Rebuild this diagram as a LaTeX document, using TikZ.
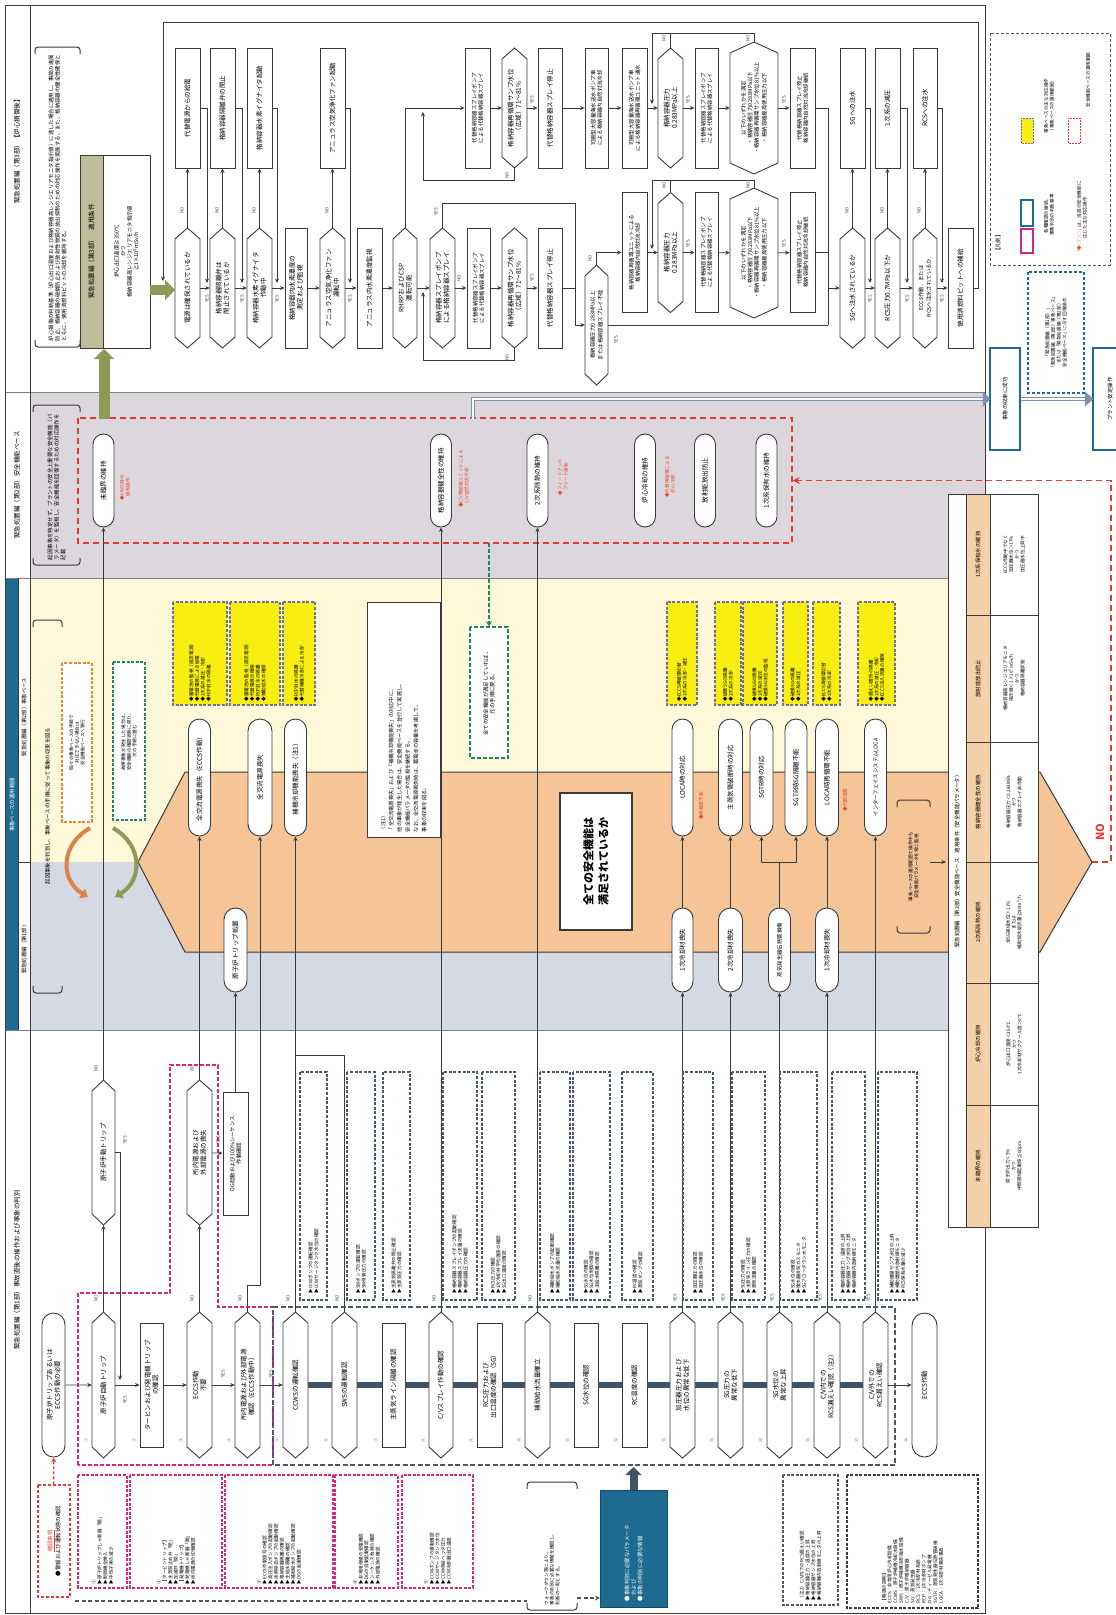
\documentclass[tikz,border=0pt]{standalone}
\usepackage{fontspec}
\setmainfont{Noto Sans CJK JP}
\XeTeXlinebreaklocale "ja"
\XeTeXlinebreakskip=0pt
\usetikzlibrary{arrows.meta,shapes.misc}
\definecolor{lc}{HTML}{3A3A3A}
\definecolor{orng}{HTML}{F5C597}
\definecolor{ylw}{HTML}{FFF8D9}
\definecolor{gryz}{HTML}{DCD7DD}
\definecolor{bluz}{HTML}{D4D9E3}
\definecolor{olv}{HTML}{8D9A57}
\definecolor{olvh}{HTML}{BDBE97}
\definecolor{bbar}{HTML}{1D6B90}
\definecolor{ybox}{HTML}{F8EE12}
\definecolor{ydash}{HTML}{6E6EA0}
\definecolor{rdash}{HTML}{E53935}
\definecolor{pdash}{HTML}{D6287C}
\definecolor{gdash}{HTML}{4A5868}
\definecolor{grdash}{HTML}{1E8A5C}
\definecolor{odash}{HTML}{E8893A}
\definecolor{thd}{HTML}{F5CFA8}
\definecolor{busc}{HTML}{3E5368}
\definecolor{dbl}{HTML}{7A94B0}
\definecolor{rtx}{HTML}{E8452C}
\definecolor{oarc}{HTML}{D9844A}
\newcommand\fA{\fontsize{6.5pt}{7.8pt}\selectfont}
\newcommand\fB{\fontsize{5.4pt}{6.5pt}\selectfont}
\newcommand\fC{\fontsize{4.6pt}{5.7pt}\selectfont}
\newcommand\fL{\fontsize{4.4pt}{5pt}\selectfont}
\tikzset{
  nl/.style={draw=lc, line width=0.9pt},
  hexbox/.style={rectangle, inner sep=0pt, align=center, font=\fA},
  bx/.style={rectangle, draw=lc, line width=0.9pt, fill=white, inner sep=1pt, align=center, font=\fA},
  pl/.style={rounded rectangle, draw=lc, line width=0.9pt, fill=white, inner sep=1pt, align=center, font=\fA},
  arr/.style={draw=lc, line width=0.7pt, -{Stealth[length=4.5pt,width=4pt]}},
  ln/.style={draw=lc, line width=0.7pt},
  lbl/.style={font=\fL, inner sep=0pt, text=lc},
  num/.style={font=\fL, inner sep=0pt, text=lc!70},
  ttl/.style={font=\fA, inner sep=0pt},
  note/.style={rectangle, inner sep=1.5pt, align=left, font=\fC},
  gnote/.style={note, draw=gdash, line width=1.1pt, dash pattern=on 3pt off 1.6pt, fill=white},
  pnote/.style={note, draw=pdash, line width=1.1pt, dash pattern=on 3pt off 1.6pt, fill=white},
  ynote/.style={note, draw=ydash, line width=1.1pt, dash pattern=on 3pt off 1.6pt, fill=ybox},
  rnote/.style={text=rtx, font=\fC, align=left, inner sep=0pt},
  bk/.style={draw=lc, line width=1pt, rounded corners=3pt},
  bus/.style={draw=busc, line width=6pt},
  olva/.style={draw=olv, line width=11pt, -{Triangle[length=10pt,width=20pt]}},
  tealbx/.style={rectangle, draw=bbar, line width=1.4pt, fill=white, align=center, font=\fB, inner sep=1pt},
}
\newcommand\myhex[7]{%
  \node[hexbox,minimum width=#4pt,minimum height=#5pt,text width=#6pt] (#1) at (#2,#3) {#7};
  \draw[nl] ({#2-#4/2},{#3}) -- ({#2-#4/2+11},{#3+#5/2}) -- ({#2+#4/2-11},{#3+#5/2}) -- ({#2+#4/2},{#3}) -- ({#2+#4/2-11},{#3-#5/2}) -- ({#2-#4/2+11},{#3-#5/2}) -- cycle;}
\newcommand\mybrk[4]{%
  \draw[bk] ({#1+7},{#4}) -- (#1,#4) -- (#1,#2) -- ({#1+7},{#2});
  \draw[bk] ({#3-7},{#4}) -- (#3,#4) -- (#3,#2) -- ({#3-7},{#2});}
\begin{document}
\begin{tikzpicture}[x=1pt,y=1pt]
\useasboundingbox (0,0) rectangle (1116,-1615);
\fill[white] (0,0) rectangle (1116,-1615);
\begin{scope}[rotate=90,transform shape]
% ---------------- zones ----------------
\fill[gryz] (-578,-985) rectangle (-392,-30);
\fill[ylw] (-862,-985) rectangle (-578,-30);
\fill[bluz] (-1030,-985) rectangle (-862,-30);
\fill[bbar] (-1030,-18) rectangle (-578,-6);
\draw[gray, line width=0.6pt] (-392,-5) -- (-392,-985);
\draw[gray, line width=0.6pt] (-578,-5) -- (-578,-985);
\draw[gray, line width=0.6pt] (-1030,-5) -- (-1030,-985);
\draw[lc, line width=0.6pt] (-862,-18) -- (-862,-30);
\draw[lc, line width=0.6pt] (-578,-18) -- (-1030,-18);
\draw[lc, line width=0.9pt] (-1613,-5) rectangle (-5,-985);
\draw[lc, line width=0.9pt] (-1613,-30) -- (-5,-30);
% titles
\node[ttl] (tt3) at (-150,-17) {緊急処置編（第3部）【炉心損傷後】};
\node[ttl] (tt2s) at (-485,-17) {緊急処置編（第2部）安全機能ベース};
\node[ttl,font=\fB] (tt2e) at (-717,-24) {緊急処置編（第2部）事象ベース};
\node[ttl,font=\fB,text=white] (ttb) at (-805,-12) {事象ベースの運用範囲};
\node[ttl,font=\fB] (tt1a) at (-948,-24) {緊急処置編（第1部）};
\node[ttl] (tt1) at (-1270,-17) {緊急処置編（第1部）事故直後の操作および事象の判別};
% bracket notes
\node[note,font=\fB,text width=288pt,minimum width=300pt,minimum height=45pt] (n3) at (-197,-57.5) {炉心損傷の判断基準（炉心出口温度および格納容器高レンジエリアモニタ指示値）に達した場合に適用し、事故の進展防止、格納容器の破損防止および放射性物質の放出抑制のための対応操作を実施する。また、格納容器の健全性確保とともに、使用済燃料ピットの冷却を維持する。};
\mybrk{-347}{-80}{-47}{-35}
\node[note,font=\fB,text width=150pt,minimum width=160pt,minimum height=45pt] (n2s) at (-485,-56.5) {起因事象を特定せず、プラントの安全上重要な安全機能（パラメータ）を監視し、安全機能を回復するための対応操作を記載};
\mybrk{-565}{-80}{-405}{-33}
\node[note,font=\fB,align=center,text width=360pt,minimum width=373pt,minimum height=27pt] (n2e) at (-806,-47.5) {起因事象を判別し、事象ベースの手順に従って事象の収束を図る};
\mybrk{-993}{-62}{-620}{-33}
% orange shape
\filldraw[fill=orng, draw=lc, line width=1pt] (-772,-185) -- (-772,-1040) -- (-862,-1092) -- (-952,-1040) -- (-952,-185) -- (-862,-138) -- cycle;
\coordinate (oapex) at (-862,-1092);
% table
\fill[white] (-1227,-1038) rectangle (-494,-948);
\fill[thd] (-1227,-990) rectangle (-494,-966);
\draw[lc, line width=0.7pt] (-1227,-966) -- (-494,-966);
\draw[lc, line width=0.7pt] (-1227,-990) -- (-494,-990);
\foreach \xx in {-615,-742,-862,-983,-1105} \draw[lc, line width=0.7pt] (\xx,-966) -- (\xx,-1038);
\draw[lc, line width=0.9pt] (-1227,-1038) rectangle (-494,-948);
\node[font=\fB] (tbt) at (-860,-957) {緊急処置編（第2部）安全機能ベース　適用条件（安全機能パラメータ）};
\node[font=\fB] (th1) at (-1166,-978) {未臨界の維持};
\node[font=\fB] (th2) at (-1044,-978) {炉心冷却の維持};
\node[font=\fB] (th3) at (-922.5,-978) {2次系除熱の維持};
\node[font=\fB] (th4) at (-802,-978) {格納容器健全性の維持};
\node[font=\fB] (th5) at (-678.5,-978) {放射能放出防止};
\node[font=\fB] (th6) at (-554.5,-978) {1次系保有水の維持};
\node[font=\fC,align=center] (tc1) at (-1166,-1014) {原子炉出力＜5\%\\かつ\\中間領域起動率≦0dpm};
\node[font=\fC,align=center] (tc2) at (-1044,-1014) {炉心出口温度＜350℃\\かつ\\1次冷却材サブクール度＞0℃};
\node[font=\fC,align=center] (tc3) at (-922.5,-1014) {全SG狭域水位＞11\%\\または\\補助給水総流量≧80m\textsuperscript{3}/h};
\node[font=\fC,align=center] (tc4) at (-802,-1014) {格納容器圧力＜0.283MPa\\かつ\\格納容器スプレイ非作動};
\node[font=\fC,align=center] (tc5) at (-678.5,-1014) {格納容器高レンジエリアモニタ\\指示値＜1×10\textsuperscript{3}mSv/h\\かつ\\格納容器隔離状態};
\node[font=\fC,align=center] (tc6) at (-554.5,-1014) {ECCS作動中でなく\\加圧器水位＞17\%\\かつ\\加圧器水位上昇中};
% ---------------- safety function base ----------------
\node[rectangle, draw=rdash, line width=1.5pt, dash pattern=on 6pt off 4pt, minimum width=125pt, minimum height=714pt, inner sep=0pt] (sfb) at (-480.5,-435) {};
\node[pl,minimum width=95pt,minimum height=21pt] (p1) at (-480.5,-103.5) {未臨界の維持};
\node[pl,minimum width=95pt,minimum height=21pt] (p2) at (-480.5,-441) {格納容器健全性の維持};
\node[pl,minimum width=95pt,minimum height=21pt] (p3) at (-480.5,-537.5) {2次系除熱の維持};
\node[pl,minimum width=95pt,minimum height=21pt] (p4) at (-480.5,-645) {炉心冷却の維持};
\node[pl,minimum width=95pt,minimum height=21pt] (p5) at (-480.5,-705) {放射能放出防止};
\node[pl,minimum width=95pt,minimum height=21pt] (p6) at (-480.5,-766.5) {1次系保有水の維持};
\node[rnote] (pr1) at (-488,-125) {◆ATWS時の\\　緩和操作};
\node[rnote] (pr2) at (-479,-464) {◆C/V再循環ユニットによる\\　C/V自然対流冷却};
\node[rnote] (pr3) at (-477,-563) {◆フィードアンド\\　ブリード運転};
\node[rnote] (pr4) at (-477,-670) {◆代替再循環による\\　炉心冷却};
% green dashed
\node[note, draw=grdash, line width=1.3pt, dash pattern=on 4pt off 2pt, fill=white, align=center, font=\fB, minimum width=131pt, minimum height=38pt, text width=120pt] (gbx) at (-692.5,-489) {全ての安全機能が満足していれば、\\元の手順に戻る。};
\draw[draw=grdash, line width=1.3pt, dash pattern=on 4pt off 2pt, -{Stealth[length=5pt,width=6pt]}] (-543,-489) -- (gbx.east);
% orange/green dashed event notes
\node[note, draw=odash, line width=1.1pt, dash pattern=on 3pt off 1.6pt, fill=white, align=center, minimum width=159pt, minimum height=30pt, text width=150pt] (obx) at (-742.5,-77) {個々の事象ベースの手順で\\対応できない場合は\\安全機能ベースへ移行};
\node[note, draw=grdash, line width=1.1pt, dash pattern=on 3pt off 1.6pt, fill=white, align=center, minimum width=158pt, minimum height=32pt, text width=150pt] (gbx2) at (-741,-129) {故障事象が発生した場合は、\\安全機能の確認状態に戻り、\\次の手順に進む};
\draw[draw=oarc, line width=4pt, -{Triangle[length=7pt,width=11pt]}] (-828,-90) .. controls (-845,-60) and (-880,-60) .. (-897,-88);
\draw[draw=olv, line width=4pt, -{Triangle[length=7pt,width=11pt]}] (-828,-113) .. controls (-845,-143) and (-880,-143) .. (-897,-115);
% note 1
\node[note, draw=lc, line width=0.8pt, fill=white, font=\fontsize{5.2pt}{8.2pt}\selectfont, minimum width=235pt, minimum height=73pt, text width=225pt] (nt1) at (-719.5,-403.5) {（注1）\\「全交流電源喪失」および「補機冷却機能喪失」の対応中に、\\他の事象が発生した場合は、安全機能ベースを並行して実施し、\\安全機能パラメータの監視を継続する。\\なお、全交流電源喪失時は、蓄電池の容量を考慮して、\\事象の収束を図る。};
% yellow boxes
\node[ynote, minimum width=103pt, minimum height=54pt, text width=96pt] (y1) at (-653.5,-200) {◆蓄電池の監視（直流電源）\\◆代替電源による給電\\◆1次系の減圧・冷却\\◆RCP封水の隔離};
\node[ynote, minimum width=103pt, minimum height=50pt, text width=96pt] (y2) at (-653.5,-255) {◆蓄電池の監視（直流電源）\\◆代替電源の確保\\◆RCP封水の隔離\\◆補助給水の確保};
\node[ynote, minimum width=103pt, minimum height=32pt, text width=96pt] (y3) at (-653.5,-299) {◆RCP封水の隔離\\◆代替補機冷却による冷却};
\node[ynote, minimum width=103pt, minimum height=30pt, text width=96pt] (y4) at (-653.5,-682) {◆ECCS再循環切替\\◆1次系の冷却・減圧};
\node[ynote, minimum width=103pt, minimum height=26pt, text width=96pt] (y5) at (-653.5,-728) {◆破断SGの隔離\\◆1次系の冷却};
\node[ynote, minimum width=103pt, minimum height=34pt, text width=96pt] (y6) at (-653.5,-760) {◆破損SGの隔離\\◆1次系の減圧\\◆破損SG水位の監視};
\node[ynote, minimum width=103pt, minimum height=25pt, text width=96pt] (y7) at (-653.5,-795.5) {◆破損SGの隔離\\◆1次系の減圧};
\node[ynote, minimum width=103pt, minimum height=27pt, text width=96pt] (y8) at (-653.5,-826.5) {◆ECCS再循環切替\\◆1次系の冷却};
\node[ynote, minimum width=103pt, minimum height=37pt, text width=96pt] (y9) at (-653.5,-876.5) {◆漏えい箇所の隔離\\◆1次系の減圧・冷却\\◆ECCS注入流量の確保};
% event pills
\node[pl,minimum width=119pt,minimum height=22pt] (e1) at (-777.5,-199.5) {全交流電源喪失（ECCS作動）};
\node[pl,minimum width=119pt,minimum height=24pt] (e2) at (-777.5,-260) {全交流電源喪失};
\node[pl,minimum width=119pt,minimum height=22pt] (e3) at (-777.5,-295.5) {補機冷却機能喪失（注1）};
\node[pl,minimum width=119pt,minimum height=21pt] (q1) at (-777.5,-682.5) {LOCA時の対応};
\node[pl,minimum width=119pt,minimum height=24pt] (q2) at (-777.5,-730.5) {主蒸気管破断時の対応};
\node[pl,minimum width=119pt,minimum height=23pt] (q3) at (-777.5,-761.5) {SGTR時の対応};
\node[pl,minimum width=119pt,minimum height=22pt] (q4) at (-777.5,-796) {SGTR時SG隔離不能};
\node[pl,minimum width=119pt,minimum height=23pt] (q5) at (-777.5,-827) {LOCA時再循環不能};
\node[pl,minimum width=119pt,minimum height=22pt,font=\fB] (q6) at (-777.5,-875.5) {インターフェイスシステムLOCA};
\node[rnote] (qr1) at (-806,-701) {◆再循環不能};
\node[rnote] (qr5) at (-800,-845) {◆代替措置};
\node[pl,minimum width=86pt,minimum height=23pt] (tp) at (-950,-235.5) {原子炉トリップ処置};
\node[pl,minimum width=86pt,minimum height=21pt] (l1) at (-950,-682.5) {1次冷却材喪失};
\node[pl,minimum width=86pt,minimum height=24pt] (l2) at (-950,-730.5) {2次冷却材喪失};
\node[pl,minimum width=86pt,minimum height=22pt,font=\fB] (l3) at (-950,-779.5) {蒸気発生器伝熱管損傷};
\node[pl,minimum width=86pt,minimum height=23pt] (l4) at (-950,-827) {1次冷却材喪失};
% question box
\node[rectangle, draw=lc, line width=1.2pt, fill=white, align=center, font=\fontsize{11pt}{15pt}\selectfont\bfseries, minimum width=137pt, minimum height=72pt] (qall) at (-861.5,-596) {全ての安全機能は\\満足されているか};
\node[note, align=center, minimum width=133pt, minimum height=33pt, text width=125pt] (onote) at (-866.5,-913.5) {事象ベースの運用範囲で操作中も\\安全機能パラメータを常に監視};
\mybrk{-933}{-930}{-800}{-897}
\coordinate (onA) at (-862,-930);
\coordinate (onB) at (-862,-946);
\draw[arr] (onA) -- (onB);
% ---------------- olive / part 3 condition ----------------
\node[rectangle, draw=lc, line width=0.9pt, fill=white, minimum width=193pt, minimum height=70pt, inner sep=0pt] (g3) at (-251.5,-115) {};
\fill[olvh] (-347.5,-103) rectangle (-155.5,-80.5);
\draw[lc, line width=0.9pt] (-348,-150) rectangle (-155,-80);
\draw[lc, line width=0.9pt] (-348,-103) -- (-155,-103);
\node[ttl] (g3h) at (-251.5,-91.5) {緊急処置編（第3部）　適用条件};
\node[font=\fB, align=center] (g3c) at (-251.5,-126.5) {炉心出口温度≧350℃\\かつ\\格納容器高レンジエリアモニタ指示値\\≧1×10\textsuperscript{5}mSv/h};
\coordinate (oa1) at (-419,-104);
\coordinate (oa2) at (-349,-104);
\draw[olva] (oa1) -- (oa2);
\coordinate (oa3) at (-290,-150);
\coordinate (oa4) at (-290,-175);
\draw[olva, line width=10pt] (oa3) -- (oa4);
% ---------------- part 3 flowchart ----------------
\myhex{h1}{-288}{-187.5}{120}{25}{98}{電源は確保されているか}
\myhex{h2}{-288}{-222.5}{120}{25}{98}{格納容器隔離弁は\\閉止されているか}
\myhex{h3}{-288}{-259.5}{120}{25}{98}{格納容器水素イグナイタ\\作動中}
\node[bx,minimum width=120pt,minimum height=22pt,text width=112pt] (b4) at (-288,-296) {格納容器内水素濃度の\\測定および監視};
\myhex{h5}{-288}{-332.5}{120}{25}{98}{アニュラス空気浄化ファン\\運転中}
\node[bx,minimum width=120pt,minimum height=25pt,text width=112pt] (b6) at (-288,-369.5) {アニュラス内水素濃度監視};
\myhex{h7}{-288}{-405}{120}{24}{98}{RHRPおよびCSP\\運転可能}
\myhex{h8}{-288}{-442.5}{120}{25}{98}{格納容器スプレイポンプ\\による格納容器スプレイ}
\node[bx,font=\fB,minimum width=120pt,minimum height=23pt,text width=112pt] (lb1) at (-288,-478.5) {代替格納容器スプレイポンプ\\による代替格納容器スプレイ};
\myhex{lb2}{-288}{-514.5}{120}{25}{98}{格納容器再循環サンプ水位\\（広域）71〜81\%}
\node[bx,minimum width=120pt,minimum height=24pt,text width=112pt] (lb3) at (-288,-550) {代替格納容器スプレイ停止};
\myhex{lb4}{-325}{-596.5}{120}{23}{98}{\fB 格納容器圧力0.283MPa以上\\または格納容器スプレイ不能}
\node[bx,font=\fB,minimum width=120pt,minimum height=25pt,text width=112pt] (lb5) at (-252.5,-634.5) {格納容器再循環ユニットによる\\格納容器内自然対流冷却};
\myhex{lb6}{-252.5}{-670.5}{120}{25}{98}{格納容器圧力\\0.283MPa以上}
\node[bx,font=\fB,minimum width=120pt,minimum height=23pt,text width=112pt] (lb7) at (-252.5,-706.5) {代替格納容器スプレイポンプ\\による代替格納容器スプレイ};
\myhex{lb8}{-253}{-754}{130}{48}{108}{\fB 以下のいずれかを満足\\・格納容器圧力0.283MPa以下\\・格納容器再循環サンプ水位81\%以上\\・格納容器最高使用圧力以下}
\node[bx,font=\fB,minimum width=120pt,minimum height=25pt,text width=112pt] (lb9) at (-252.5,-802.5) {代替格納容器スプレイ停止\\格納容器内自然対流冷却継続};
\node[bx,font=\fB,minimum width=120pt,minimum height=25pt,text width=112pt] (ub1) at (-108,-477.5) {代替格納容器スプレイポンプ\\による代替格納容器スプレイ};
\myhex{ub2}{-108}{-514.5}{120}{25}{98}{格納容器再循環サンプ水位\\（広域）71〜81\%}
\node[bx,minimum width=120pt,minimum height=24pt,text width=112pt] (ub3) at (-108,-550) {代替格納容器スプレイ停止};
\node[bx,font=\fB,minimum width=120pt,minimum height=23pt,text width=112pt] (ub4) at (-108,-596.5) {可搬型大容量海水送水ポンプ車\\による格納容器内自然対流冷却};
\node[bx,font=\fB,minimum width=120pt,minimum height=25pt,text width=112pt] (ub5) at (-108,-634.5) {可搬型大容量海水送水ポンプ車\\による格納容器再循環ユニット通水};
\myhex{ub6}{-108}{-670.5}{120}{25}{98}{格納容器圧力\\0.283MPa以上}
\node[bx,font=\fB,minimum width=120pt,minimum height=23pt,text width=112pt] (ub7) at (-108,-706.5) {代替格納容器スプレイポンプ\\による代替格納容器スプレイ};
\myhex{ub8}{-108}{-754}{132}{48}{108}{\fB 以下のいずれかを満足\\・格納容器圧力0.283MPa以下\\・格納容器再循環サンプ水位81\%以上\\・格納容器最高使用圧力以下}
\node[bx,font=\fB,minimum width=120pt,minimum height=25pt,text width=112pt] (ub9) at (-108,-802.5) {代替格納容器スプレイ停止\\格納容器内自然対流冷却継続};
\node[bx,minimum width=120pt,minimum height=25pt,text width=112pt] (r1) at (-108,-187.5) {代替電源からの給電};
\node[bx,minimum width=120pt,minimum height=25pt,text width=112pt] (r2) at (-108,-222.5) {格納容器隔離弁の閉止};
\node[bx,minimum width=120pt,minimum height=25pt,text width=112pt] (r3) at (-108,-259.5) {格納容器水素イグナイタ起動};
\node[bx,minimum width=120pt,minimum height=25pt,text width=112pt] (r5) at (-108,-332.5) {アニュラス空気浄化ファン起動};
\node[bx,minimum width=120pt,minimum height=25pt,text width=112pt] (rm1) at (-108,-852.5) {SGへの注水};
\node[bx,minimum width=120pt,minimum height=25pt,text width=112pt] (rm2) at (-108,-887.5) {1次系の減圧};
\node[bx,minimum width=120pt,minimum height=24pt,text width=112pt] (rm3) at (-108,-925) {RCSへの注水};
\myhex{m1}{-288}{-852.5}{120}{25}{98}{SGへ注水されているか}
\myhex{m2}{-288}{-887.5}{120}{25}{98}{RCS圧力0.7MPa以下か}
\myhex{m3}{-288}{-925}{120}{24}{98}{\fB ECCS作動、または\\RCSへ注水されているか}
\node[bx,minimum width=120pt,minimum height=25pt,text width=112pt] (m4) at (-288,-960.5) {使用済燃料ピットへの補給};
% connectors part 3
\draw[arr] (h1) -- (h2);
\draw[arr] (h2) -- (h3);
\draw[arr] (h3) -- (b4);
\draw[arr] (b4) -- (h5);
\draw[arr] (h5) -- (b6);
\draw[arr] (b6) -- (h7);
\draw[arr] (h7) -- (h8);
\draw[arr] (h8) -- (lb1);
\draw[arr] (lb1) -- (lb2);
\draw[arr] (lb2) -- (lb3);
\draw[ln] (lb3) -- (-288,-575);
\draw[arr] (h8.east) -- (-203,-442.5) -- (-203,-575) -- (-325,-575) -- (lb4.north);
\draw[arr] (lb4.east) -- (-252.5,-596.5) -- (lb5.north);
\draw[ln] (lb4.south) -- (-325,-828);
\draw[arr] (lb5) -- (lb6);
\draw[arr] (lb6) -- (lb7);
\draw[arr] (lb7) -- (lb8);
\draw[arr] (lb8) -- (lb9);
\draw[ln] (lb9) -- (-252.5,-828);
\draw[arr] (lb6.east) -- (-180,-670.5) -- (-180,-652) -- (-249,-652);
\draw[ln] (lb8.east) -- (-180,-754) -- (-180,-670.5);
\draw[arr] (h7.east) -- (-108,-405) -- (ub1);
\draw[arr] (ub1) -- (ub2);
\draw[arr] (ub2) -- (ub3);
\draw[arr] (ub3) -- (ub4);
\draw[arr] (ub4) -- (ub5);
\draw[arr] (ub5) -- (ub6);
\draw[arr] (ub6) -- (ub7);
\draw[arr] (ub7) -- (ub8);
\draw[arr] (ub8) -- (ub9);
\draw[arr] (ub2.west) -- (-180,-514.5) -- (-180,-423) -- (-112,-423);
\draw[arr] (lb2.west) -- (-360,-514.5) -- (-360,-423) -- (-292,-423);
\draw[arr] (ub6.east) -- (-33,-670.5) -- (-33,-652) -- (-104,-652);
\draw[ln] (ub8.east) -- (-33,-754) -- (-33,-670.5);
\draw[ln] (ub9) -- (-108,-828) -- (-325,-828);
\coordinate (mj) at (-288,-828);
\draw[arr] (mj) -- (m1);
\draw[arr] (m1) -- (m2);
\draw[arr] (m2) -- (m3);
\draw[arr] (m3) -- (m4);
\foreach \a/\b in {h1/r1,h2/r2,h3/r3,h5/r5,m1/rm1,m2/rm2,m3/rm3} \draw[arr] (\a.east) -- (\b.west);
\foreach \b/\yy in {r1/-207,r2/-242,r3/-277,r5/-350,rm1/-870,rm2/-907,rm3/-942} \draw[arr] (\b.south) -- (-108,\yy) -- (-283,\yy);
\draw[arr] (m4.south) -- (-288,-978) -- (-22,-978) -- (-22,-163) -- (-281,-163);
\foreach \a/\b/\t [count=\i] in {-299/-207/YES,-299/-242/YES,-299/-277/YES,-299/-350/YES,-299/-870/YES,-299/-907/YES,-299/-942/YES,-210/-182/NO,-210/-217/NO,-210/-254/NO,-210/-327/NO,-210/-847/NO,-210/-882/NO,-210/-919/NO,-278/-459/NO,-278/-532/YES,-212/-436/YES,-258/-590/NO,-340/-616/YES,-244/-688/YES,-244/-784/YES,-100/-688/YES,-100/-784/YES,-100/-532/YES,-175/-507/NO,-357/-507/NO,-38/-664/NO,-185/-664/NO,-38/-748/NO,-185/-748/NO}
  \node[lbl] (yn\i) at (\a,\b) {\t};
% ---------------- part 1 main row ----------------
\node[pl,minimum width=146pt,minimum height=23pt] (s0) at (-1385,-53.5) {原子炉トリップあるいは\\ECCS作動の必要};
\myhex{n1}{-1385}{-103.5}{146}{23}{120}{原子炉自動トリップ}
\node[bx,minimum width=124pt,minimum height=23pt,text width=118pt] (n2) at (-1385,-151.5) {タービンおよび発電機トリップ\\の確認};
\myhex{n3}{-1385}{-199.5}{146}{25}{120}{ECCS作動\\不要}
\myhex{n4}{-1385}{-247.5}{146}{25}{120}{所内電源および外部電源\\確認（ECCS作動中）}
\myhex{n5}{-1385}{-295.5}{146}{25}{120}{CCWSの運転確認}
\myhex{n6}{-1385}{-344.5}{146}{25}{120}{SWSの運転確認}
\node[bx,minimum width=124pt,minimum height=23pt,text width=118pt] (n7) at (-1385,-393.5) {主蒸気ライン隔離の確認};
\myhex{n8}{-1385}{-441}{146}{24}{120}{C/Vスプレイ作動の確認}
\node[bx,minimum width=124pt,minimum height=25pt,text width=118pt] (n9) at (-1385,-489.5) {RCS圧力および\\出口温度の確認（SG）};
\myhex{n10}{-1385}{-537.5}{146}{25}{120}{補助給水流量確立}
\node[bx,minimum width=124pt,minimum height=24pt,text width=118pt] (n11) at (-1385,-586) {SG水位の確認};
\node[bx,minimum width=124pt,minimum height=25pt,text width=118pt] (n12) at (-1385,-634.5) {RC温度の確認};
\myhex{n13}{-1385}{-682.5}{146}{25}{120}{加圧器圧力および\\水位の異常な低下}
\myhex{n14}{-1385}{-730.5}{146}{25}{120}{SG圧力の\\異常な低下}
\myhex{n15}{-1385}{-779.5}{146}{25}{120}{SG水位の\\異常な上昇}
\myhex{n16}{-1385}{-827}{146}{26}{120}{C/V内での\\RCS漏えい確認（注2）}
\myhex{n17}{-1385}{-875.5}{146}{25}{120}{C/V外での\\RCS漏えい確認}
\node[pl,minimum width=146pt,minimum height=25pt] (n18) at (-1385,-924.5) {ECCS作動};
\myhex{u1}{-1152.5}{-103.5}{145}{23}{120}{原子炉手動トリップ}
\myhex{u3}{-1152.5}{-199.5}{145}{25}{120}{所内電源および\\外部電源の喪失}
\node[bx,font=\fB,minimum width=123pt,minimum height=25pt,text width=117pt] (dg) at (-1153.5,-235.5) {DG起動および100\%シーケンス\\作動確認};
% part1 connectors
\draw[arr] (s0) -- (n1);
\draw[arr] (n1) -- (n2);
\draw[arr] (n2) -- (n3);
\draw[arr] (n3) -- (n4);
\draw[arr] (n4) -- (n5);
\draw[bus] (n5) -- (n6) -- (n7) -- (n8) -- (n9) -- (n10) -- (n11) -- (n12) -- (n13) -- (n14) -- (n15) -- (n16) -- (n17);
\draw[arr] (n17) -- (n18);
\draw[arr] (n1.east) -- (u1.west);
\draw[arr] (u1.east) -- (p1.west);
\draw[arr] (u1.south) -- (-1152.5,-120) -- (-1380,-120);
\draw[arr] (n3.east) -- (u3.west);
\draw[arr] (u3.east) -- (e1.west);
\draw[arr] (u3) -- (dg);
\draw[arr] (dg.east) -- (tp.west);
\draw[arr] (n4.east) -- (-1285,-247.5) -- (-1285,-260) -- (e2.west);
\draw[arr] (n5.east) -- (e3.west);
\draw[ln] (n6.east) -- (-1055,-344.5) -- (-1055,-295.5);
\draw[arr] (n8.east) -- (p2.west);
\draw[arr] (n10.east) -- (p3.west);
\draw[arr] (n13.east) -- (l1.west);
\draw[arr] (l1.east) -- (q1.west);
\draw[arr] (n14.east) -- (l2.west);
\draw[arr] (l2.east) -- (q2.west);
\draw[arr] (n15.east) -- (l3.west);
\draw[ln] (l3.east) -- (-862,-779.5);
\draw[arr] (-862,-779.5) -- (-862,-761.5) -- (q3.west);
\draw[arr] (-862,-779.5) -- (-862,-796) -- (q4.west);
\draw[arr] (n16.east) -- (l4.west);
\draw[arr] (l4.east) -- (q5.west);
\draw[arr] (n17.east) -- (q6.west);
\foreach \a/\b/\t [count=\i] in {-1400/-125/YES,-1374/-223/YES,-1374/-271/YES,-1298/-96/NO,-1068/-96/NO,-1140/-125/YES,-1298/-192/NO,-1068/-192/NO,-1140/-218/YES,-1298/-240/NO,-1298/-288/NO,-1298/-337/NO,-1298/-434/NO,-1298/-530/NO,-1298/-675/YES,-1298/-723/YES,-1298/-772/YES,-1298/-820/YES,-1298/-868/YES}
  \node[lbl] (yp\i) at (\a,\b) {\t};
\foreach \t/\p [count=\i] in {①/86,②/134,③/181,④/229,⑤/277,⑥/326,⑦/376,⑧/423,⑨/471,⑩/519,⑪/568,⑫/616,⑬/664,⑭/712,⑮/761,⑯/808,⑰/857,⑱/906}
  \node[num] (cn\i) at (-1440,-\p) {\t};
% dashed enclosures
\draw[draw=pdash, line width=1.3pt, dash pattern=on 4pt off 2pt] (-1465,-78) -- (-1293,-78) -- (-1293,-170) -- (-1065,-170) -- (-1065,-218) -- (-1307,-218) -- (-1307,-273) -- (-1465,-273) -- cycle;
\draw[draw=gdash, line width=1.3pt, dash pattern=on 5pt off 2.5pt] (-1465,-895) rectangle (-1307,-273);
% gray notes
\node[gnote, minimum width=228pt, minimum height=27pt, text width=215pt] (g1) at (-1186,-313.5) {▶CCWポンプの運転確認\\▶CCWサージタンク水位の確認};
\node[gnote, minimum width=228pt, minimum height=28pt, text width=215pt] (g2) at (-1186,-361) {▶SWポンプの運転確認\\▶SW母管圧力の確認};
\node[gnote, minimum width=228pt, minimum height=27pt, text width=215pt] (g3n) at (-1186,-396.5) {▶主蒸気隔離弁の閉止確認\\▶主蒸気圧力の確認};
\node[gnote, minimum width=228pt, minimum height=34pt, text width=215pt] (g4) at (-1186,-460) {▶格納容器スプレイポンプの起動確認\\▶格納容器スプレイ流量の確認\\▶格納容器圧力の確認};
\node[gnote, minimum width=228pt, minimum height=33pt, text width=215pt] (g5) at (-1186,-498.5) {▶RCS圧力の確認\\▶1次冷却材平均温度の確認\\▶SG出口温度の確認};
\node[gnote, minimum width=228pt, minimum height=30pt, text width=215pt] (g6) at (-1186,-555) {▶補助給水ポンプの起動確認\\▶補助給水流量の確認};
\node[gnote, minimum width=228pt, minimum height=37pt, text width=215pt] (g7) at (-1186,-591.5) {▶SG水位の確認\\▶SG水位制御の確認\\▶主給水隔離の確認};
\node[gnote, minimum width=228pt, minimum height=31pt, text width=215pt] (g8) at (-1186,-637.5) {▶RC温度の確認\\▶蒸気ダンプの確認};
\node[gnote, minimum width=228pt, minimum height=30pt, text width=215pt] (g9) at (-1186,-698) {▶加圧器圧力の確認\\▶加圧器水位の確認};
\node[gnote, minimum width=228pt, minimum height=33pt, text width=215pt] (g10) at (-1186,-748.5) {▶SG圧力の確認\\▶主蒸気ライン圧力の確認\\▶蒸気流量の確認};
\node[gnote, minimum width=228pt, minimum height=37pt, text width=215pt] (g11) at (-1186,-798.5) {▶SG水位の確認\\▶復水器排気ガスモニタ\\▶SGブローダウン水モニタ};
\node[gnote, minimum width=228pt, minimum height=33pt, text width=215pt] (g12) at (-1186,-848.5) {▶格納容器圧力・温度の上昇\\▶格納容器サンプ水位の上昇\\▶格納容器内放射線モニタ};
\node[gnote, minimum width=228pt, minimum height=39pt, text width=215pt] (g13) at (-1186,-897.5) {▶補助建屋サンプ水位の上昇\\▶補助建屋内放射線モニタ\\▶RCS保有水量の減少};
% pink notes
\node[pnote, minimum width=113pt, minimum height=49pt, text width=105pt] (pb1) at (-1531.5,-102.5) {①\\▶原子炉トリップしゃ断器「開」\\▶制御棒全挿入\\▶中性子束の減少};
\node[pnote, minimum width=113pt, minimum height=92pt, text width=105pt] (pb2) at (-1531.5,-176) {②\\【タービントリップ】\\▶主蒸気止め弁「閉」\\▶加減弁「閉」\\【発電機トリップ】\\▶発電機しゃ断器「開」\\▶所内電源の切替確認};
\node[pnote, minimum width=113pt, minimum height=108pt, text width=105pt] (pb3) at (-1531.5,-279) {③\\▶ECCS作動信号の確認\\▶高圧注入ポンプの起動確認\\▶余熱除去ポンプの起動確認\\▶格納容器隔離の確認\\▶主給水隔離の確認\\▶補助給水ポンプの起動確認\\▶DGの起動確認};
\node[pnote, minimum width=113pt, minimum height=63pt, text width=105pt] (pb4) at (-1531.5,-366.5) {④\\▶非常用母線の受電確認\\▶DGの自動起動確認\\▶シーケンス負荷の確認\\▶外部電源の確認};
\node[pnote, minimum width=113pt, minimum height=71pt, text width=105pt] (pb5) at (-1531.5,-437.5) {⑤\\▶CCWポンプの運転確認\\▶CCWサージタンク水位\\▶CCW供給ヘッダ圧力\\▶CCW冷却器出口温度};
% red start box
\node[note, draw=rdash, line width=1.2pt, dash pattern=on 3pt off 2pt, fill=white, align=center, font=\fB, minimum width=112pt, minimum height=32pt] (rb) at (-1541,-54) {\textcolor{rtx}{\underline{確認事項}}\\●警報および運転状態の確認};
\draw[draw=rdash, line width=1.2pt, dash pattern=on 3pt off 2pt, -{Stealth[length=5pt,width=5pt]}] (rb) -- (s0);
% bottom notes
\node[note, align=left, font=\fC, minimum width=128pt, minimum height=50pt, text width=118pt] (bn) at (-1546,-552) {ウォークダウン等により、\\事象の判別に必要な情報を確認し、\\判断の一助とする。};
\mybrk{-1610}{-577}{-1482}{-527}
\coordinate (bd1) at (-1601,-75);
\coordinate (bd2) at (-1601,-527);
\coordinate (bd3) at (-1598,-577);
\coordinate (bd4) at (-1598,-600);
\draw[draw=gdash, line width=1.2pt, dash pattern=on 4pt off 2.5pt] (bd1) -- (bd2);
\draw[draw=gdash, line width=1.2pt, dash pattern=on 4pt off 2.5pt, -{Stealth[length=5pt,width=5pt]}] (bd3) -- (bd4);
\node[rectangle, fill=bbar, draw=bbar!70!black, text=white, align=left, font=\fB, minimum width=117pt, minimum height=67pt, text width=105pt] (bbx) at (-1548.5,-633.5) {●事象判別に必要なパラメータ\\\quad および\\●事象の判別に必要な情報};
\coordinate (bbt) at (-1467,-633.5);
\draw[draw=busc, line width=8pt, -{Triangle[length=8pt,width=16pt]}] (bbx.east) -- (bbt);
\node[gnote, minimum width=130pt, minimum height=55pt, text width=120pt] (nt2) at (-1540,-810.5) {（注2）C/V内でのRCS漏えい確認\\▶格納容器圧力・温度の上昇\\▶格納容器サンプ水位の上昇\\▶格納容器内放射線モニタの上昇};
\node[note, draw=lc, line width=1.2pt, dash pattern=on 3pt off 1.5pt, fill=white, font=\fC, minimum width=133pt, minimum height=131pt, text width=123pt] (abb) at (-1541.5,-912.5) {【略語の説明】\\ECCS：非常用炉心冷却設備\\CCWS：原子炉補機冷却水設備\\SWS：原子炉補機冷却海水設備\\C/V：原子炉格納容器\\SG：蒸気発生器\\RCS：1次冷却材系統\\RCP：1次冷却材ポンプ\\DG：ディーゼル発電機\\SGTR：蒸気発生器伝熱管破損\\LOCA：1次冷却材喪失事故};
% ---------------- right side ----------------
\node[rectangle, draw=gdash, line width=1pt, dash pattern=on 3pt off 2pt, minimum width=232pt, minimum height=120pt] (leg) at (-149,-1050) {};
\node[font=\fB, inner sep=0pt] (legt) at (-243,-998) {【凡例】};
\draw[draw=pdash, line width=1.2pt] (-253,-1033) rectangle (-229,-1021);
\draw[draw=bbar, line width=1.2pt] (-226,-1033) rectangle (-200,-1021);
\node[font=\fC, align=center, inner sep=0pt] (legt1) at (-215,-1049) {各種確認の継続、\\事象判別の判断基準};
\draw[draw=ydash, fill=ybox, line width=0.9pt, dash pattern=on 2pt off 1pt] (-143,-1033) rectangle (-118,-1021);
\node[font=\fC, align=center, inner sep=0pt] (legt2) at (-106,-1049) {事象ベースの主な対応操作\\（事象ベースの運用範囲）};
\draw[draw=rdash, line width=0.9pt, dash pattern=on 2pt off 1pt] (-143,-1080) rectangle (-118,-1068);
\node[font=\fC, inner sep=0pt] (legt3) at (-80,-1088) {安全機能ベースの運用範囲};
\node[font=\fC, align=center, inner sep=0pt] (legt4) at (-218,-1082) {\textcolor{rtx}{「◆○○○」}は、当該の安全機能に\\応じた主な対応操作};
\node[tealbx, minimum width=102pt, minimum height=30pt] (conv) at (-399,-1005) {事象の収束に成功};
\node[note, draw=bbar, line width=1.2pt, dash pattern=on 3pt off 2pt, fill=white, align=center, font=\fC, minimum width=121pt, minimum height=56pt, text width=115pt] (rec) at (-332.5,-1056) {「緊急処置編（第1部）」\\「緊急処置編（第2部）事象ベース」\\または「緊急処置編（第2部）\\安全機能ベース」に示す回復操作};
\node[tealbx, minimum width=102pt, minimum height=34pt] (plant) at (-399,-1110) {プラント安定操作};
\coordinate (ha0) at (-419,-473);
\coordinate (ha1) at (-399,-473);
\coordinate (ha2) at (-399,-984);
\draw[draw=dbl, line width=4.4pt] (ha0) -- (ha1) -- (ha2);
\draw[draw=white, line width=1.8pt] (ha0) -- (ha1) -- (ha2);
\draw[draw=dbl, fill=dbl, line width=0.5pt] (-392,-983) -- (-406,-983) -- (-399,-990) -- cycle;
\coordinate (hb2) at (-399,-1086);
\draw[draw=dbl, line width=4.4pt] (conv.south) -- (hb2);
\draw[draw=white, line width=1.8pt] (conv.south) -- (hb2);
\draw[draw=dbl, fill=dbl, line width=0.5pt] (-392,-1085) -- (-406,-1085) -- (-399,-1093) -- cycle;
% red NO path
\draw[draw=rdash, line width=1.5pt, dash pattern=on 6pt off 4pt, -{Stealth[length=7pt,width=7pt]}] (oapex) -- (-862,-1111) -- (-480.5,-1111) -- (sfb.south);
\node[text=rdash, font=\fontsize{11pt}{11pt}\selectfont\bfseries, inner sep=0pt] (nolbl) at (-832,-1100) {NO};
\end{scope}
\end{tikzpicture}
\end{document}
